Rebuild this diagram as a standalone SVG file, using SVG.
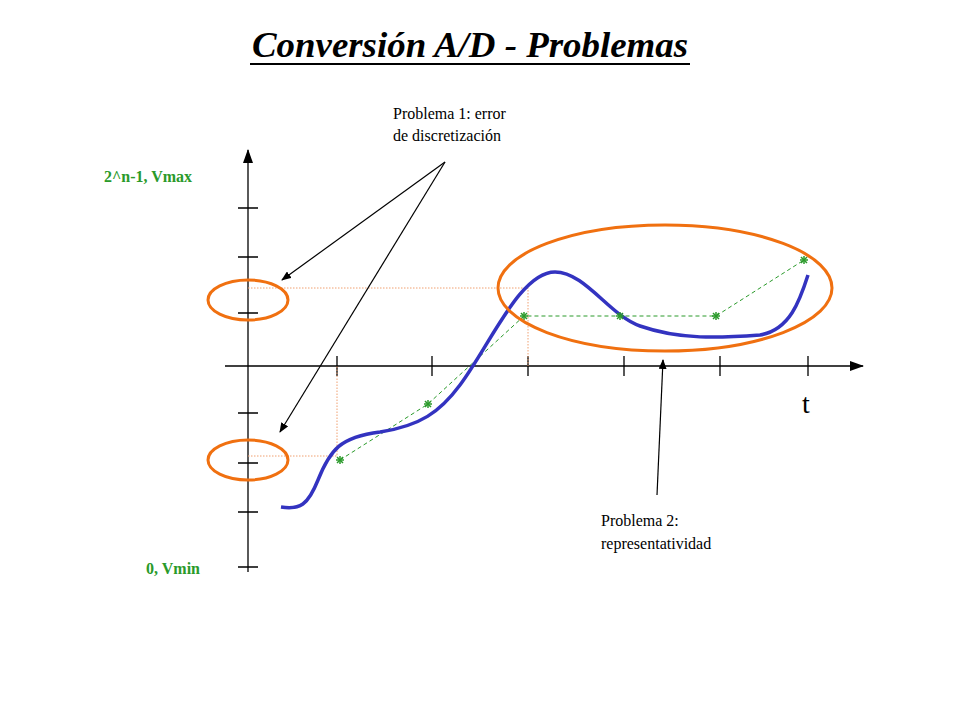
<svg xmlns="http://www.w3.org/2000/svg" width="960" height="720" viewBox="0 0 960 720">
<defs>
<marker id="ah" markerWidth="10" markerHeight="8" refX="9" refY="4" orient="auto" markerUnits="userSpaceOnUse"><path d="M0,0 L10,4 L0,8 z" fill="#000"/></marker>
<marker id="ahs" markerWidth="14" markerHeight="10" refX="13" refY="5" orient="auto" markerUnits="userSpaceOnUse"><path d="M0,0 L14,5 L0,10 z" fill="#000"/></marker>
<g id="star"><g stroke="#2a9a2a" stroke-width="1.5"><line x1="-4" y1="0" x2="4" y2="0"/><line x1="0" y1="-4" x2="0" y2="4"/><line x1="-3" y1="-3" x2="3" y2="3"/><line x1="-3" y1="3" x2="3" y2="-3"/></g></g>
</defs>
<style>
text{font-family:"Liberation Serif","DejaVu Serif",serif;}
.ax{stroke:#000;stroke-width:1.3;fill:none}
.ell{fill:none;stroke:#f07010;stroke-width:3}
.dot{stroke:#f0a070;stroke-width:1;stroke-dasharray:1.5 1.5;fill:none}
</style>
<rect width="960" height="720" fill="#fff"/>
<text x="470" y="57" text-anchor="middle" font-size="35" font-weight="bold" font-style="italic" textLength="436" lengthAdjust="spacingAndGlyphs">Conversión A/D - Problemas</text>
<line x1="250" y1="64" x2="690" y2="64" stroke="#000" stroke-width="2"/>
<g id="axes">
<line class="ax" x1="248" y1="572" x2="248" y2="150" marker-end="url(#ahs)"/>
<line class="ax" x1="225" y1="366" x2="863" y2="366" marker-end="url(#ahs)"/>
<g class="ax"><path d="M238,208h20M238,257h20M238,313h20M238,413h20M238,463h20M238,512h20M238,567h20"/>
<path d="M337,356v20M432,356v20M528,356v20M624,356v20M720,356v20M808,356v20"/></g>
</g>
<text x="148" y="182" text-anchor="middle" font-size="16" font-weight="bold" fill="#2a9a2a">2^n-1, Vmax</text>
<text x="173" y="574" text-anchor="middle" font-size="16" font-weight="bold" fill="#2a9a2a">0, Vmin</text>
<text x="806" y="413" text-anchor="middle" font-size="28">t</text>
<g class="dot"><path d="M248,288H528V366"/><path d="M248,456H337V366"/></g>
<path d="M340,460 L428,404 L524,316 L716,316 L804,260" fill="none" stroke="#2a9a2a" stroke-width="1" stroke-dasharray="4 3"/>
<path d="M281,507 C300,510 308,505 318,480 C330,450 340,437 380,432 C420,426 440,412 460,385 C490,345 520,272 555,272 C585,272 610,316 640,326 C680,340 720,338 760,335 C790,330 800,300 808,275" fill="none" stroke="#3333c0" stroke-width="3.5"/>
<use href="#star" x="340" y="460"/><use href="#star" x="428" y="404"/><use href="#star" x="524" y="316"/><use href="#star" x="620" y="316"/><use href="#star" x="716" y="316"/><use href="#star" x="804" y="260"/>
<g id="n1"><ellipse class="ell" cx="248" cy="300" rx="40" ry="20"/></g>
<g id="n2"><ellipse class="ell" cx="248" cy="460" rx="40" ry="20"/></g>
<g id="n3"><ellipse class="ell" cx="665" cy="288" rx="167" ry="63"/></g>
<g id="connectors" stroke="#000" stroke-width="1.2">
<line x1="445" y1="162" x2="282" y2="280" marker-end="url(#ah)"/>
<line x1="445" y1="162" x2="280" y2="432" marker-end="url(#ah)"/>
<line x1="657" y1="495" x2="663" y2="360" marker-end="url(#ah)"/>
</g>
<g font-size="16">
<text x="393" y="119">Problema 1: error</text>
<text x="393" y="141">de discretización</text>
<text x="601" y="526">Problema 2:</text>
<text x="601" y="549">representatividad</text>
</g>
</svg>
